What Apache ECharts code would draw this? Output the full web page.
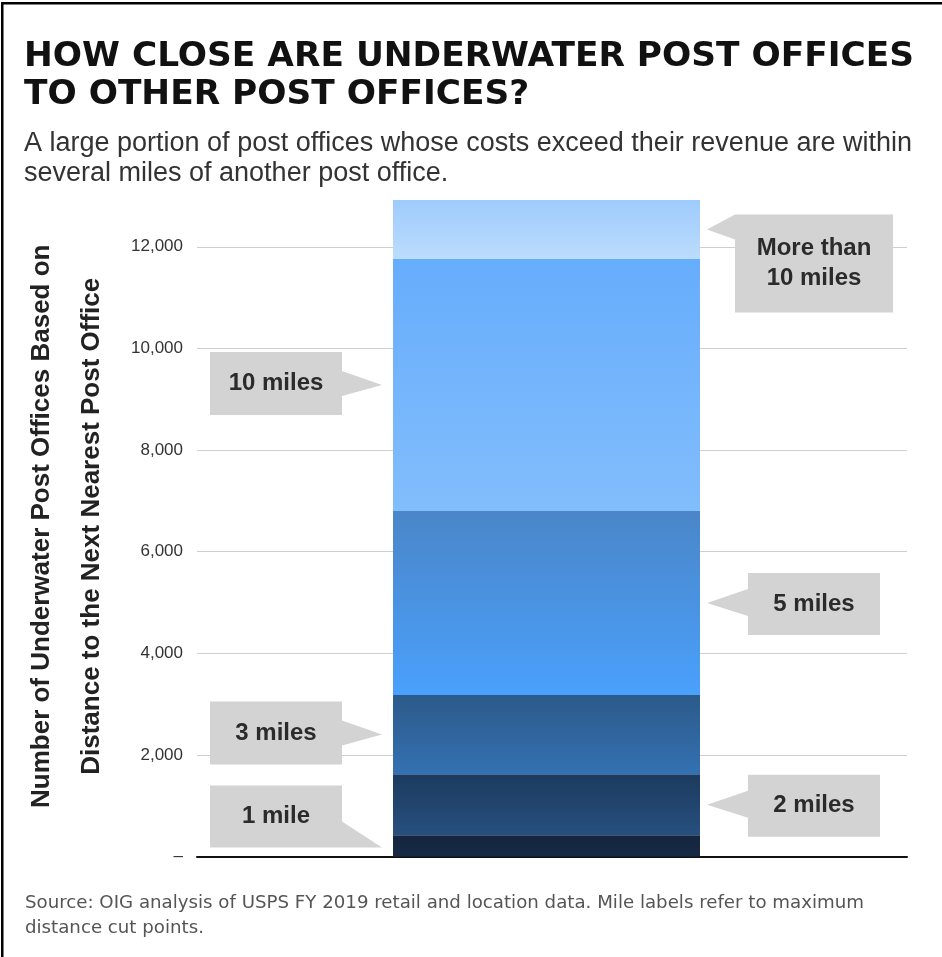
<!DOCTYPE html>
<html>
<head>
<meta charset="utf-8">
<script src="https://cdn.jsdelivr.net/npm/echarts@6/dist/echarts.min.js"></script>
<style>
html,body{margin:0;padding:0;background:#fff;}
#main{width:942px;height:957px;}
</style>
</head>
<body>
<div id="main"></div>
<script>
// ---- data ----
const categories = ['Underwater post offices'];
const segmentNames = ['1 mile', '2 miles', '3 miles', '5 miles', '10 miles', 'More than 10 miles'];
const segmentValues = [420, 1200, 1560, 3620, 4960, 1160];
const yTicks = [0, 2000, 4000, 6000, 8000, 10000, 12000];
const calloutTexts = ['1 mile', '2 miles', '3 miles', '5 miles', '10 miles', 'More than\n10 miles'];
const calloutSides = ['left', 'right', 'left', 'right', 'left', 'right'];

// ---- styles ----
const segmentGradients = [
  ['#15253d', '#172a45'],
  ['#1c3a5e', '#27507f'],
  ['#2c5a8a', '#3471b2'],
  ['#4a86c8', '#4aa0fc'],
  ['#66adfc', '#82bdfc'],
  ['#9ecbfd', '#bcdcfc']
];
const BAR_W = 307;
const SPACER_W = 11;

const chart = echarts.init(document.getElementById('main'), null, {renderer: 'canvas'});

const series = segmentValues.map((v, i) => ({
  name: segmentNames[i],
  type: 'bar',
  stack: 'total',
  barWidth: BAR_W,
  barGap: '0%',
  data: [v],
  itemStyle: {
    color: new echarts.graphic.LinearGradient(0, 0, 0, 1, [
      {offset: 0, color: segmentGradients[i][0]},
      {offset: 1, color: segmentGradients[i][1]}
    ])
  },
  emphasis: {disabled: true}
}));
// empty spacer column (no data) so the bar sits slightly left of centre as in the reference
series.push({name: 'spacer', type: 'bar', stack: 'spacer', barWidth: SPACER_W, barGap: '0%', data: ['-'], silent: true});

const option = {
  animation: false,
  backgroundColor: '#fff',
  title: [
    {
      text: 'HOW CLOSE ARE UNDERWATER POST OFFICES\nTO OTHER POST OFFICES?',
      left: 19, top: 33,
      textStyle: {fontFamily: 'DejaVu Sans', fontWeight: 'bold', fontSize: 34.4, lineHeight: 38, color: '#111'}
    },
    {
      text: 'A large portion of post offices whose costs exceed their revenue are within\nseveral miles of another post office.',
      left: 19, top: 124,
      textStyle: {fontFamily: 'Liberation Sans', fontWeight: 'normal', fontSize: 27, lineHeight: 30, color: '#333'}
    },
    {
      text: 'Source: OIG analysis of USPS FY 2019 retail and location data. Mile labels refer to maximum\ndistance cut points.',
      left: 20, top: 886,
      textStyle: {fontFamily: 'DejaVu Sans', fontWeight: 'normal', fontSize: 18.2, lineHeight: 25, color: '#555'}
    }
  ],
  grid: {left: 197, right: 35, top: 196, bottom: 100.5, containLabel: false},
  xAxis: {
    type: 'category',
    data: categories,
    axisLine: {show: true, lineStyle: {color: '#111', width: 2}},
    axisTick: {show: false},
    axisLabel: {show: false}
  },
  yAxis: {
    type: 'value',
    min: 0, max: 13000, interval: 2000,
    name: 'Number of Underwater Post Offices Based on\nDistance to the Next Nearest Post Office',
    nameLocation: 'middle',
    nameRotate: 90,
    nameGap: 80,
    nameTextStyle: {fontFamily: 'Liberation Sans', fontWeight: 'bold', fontSize: 26, lineHeight: 50, color: '#222'},
    axisLine: {show: false},
    axisTick: {show: false},
    splitLine: {show: true, showMaxLine: false, lineStyle: {color: '#cfcfcf', width: 1}},
    axisLabel: {
      showMaxLabel: false,
      margin: 14,
      fontFamily: 'Liberation Sans', fontSize: 17, color: '#333',
      formatter: function (v) {
        if (yTicks.indexOf(v) < 0) return '';
        return v === 0 ? '–' : v.toLocaleString('en-US');
      }
    }
  },
  series: series
};
chart.setOption(option);

// ---- callouts, anchored to each segment's middle through the axes ----
function buildCallouts() {
  const elements = [];
  // frame lines
  elements.push({type: 'rect', shape: {x: 1, y: 2, width: 942, height: 2.5}, style: {fill: '#000'}, silent: true});
  elements.push({type: 'rect', shape: {x: 1, y: 2, width: 2.5, height: 957}, style: {fill: '#000'}, silent: true});

  const centre = chart.convertToPixel({xAxisIndex: 0}, categories[0]);
  const shift = SPACER_W / 2;
  const barLeft = centre - BAR_W / 2 - shift;
  const barRight = centre + BAR_W / 2 - shift;
  let cum = 0;
  const boxFill = '#d3d3d3';
  const txtStyle = {fontFamily: 'Liberation Sans', fontWeight: 'bold', fontSize: 24, lineHeight: 30, fill: '#2b2b2b', align: 'center', verticalAlign: 'middle'};
  segmentValues.forEach((v, i) => {
    const mid = cum + v / 2;
    cum += v;
    let ty = chart.convertToPixel({yAxisIndex: 0}, mid);
    const side = calloutSides[i];
    let box, tri;
    if (i === 0) {
      ty = chart.convertToPixel({yAxisIndex: 0}, 0) - 9;
      const tx = barLeft - 11;
      box = {x: tx - 172, y: ty - 62, w: 132, h: 62};
      tri = [[tx - 40, ty - 26], [tx, ty], [tx - 40, ty]];
    } else if (i === 5) {
      const tx = barRight + 7;
      box = {x: tx + 28, y: ty - 15, w: 158, h: 98};
      tri = [[tx, ty], [tx + 28, ty - 15], [tx + 28, ty + 10]];
    } else if (side === 'right') {
      const tx = barRight + 7;
      box = {x: tx + 41, y: ty - 30, w: 132, h: 62};
      tri = [[tx, ty], [tx + 41, ty - 14], [tx + 41, ty + 13]];
    } else {
      const tx = barLeft - 11;
      box = {x: tx - 172, y: ty - 33, w: 132, h: 63};
      tri = [[tx - 40, ty - 14], [tx, ty], [tx - 40, ty + 11]];
    }
    elements.push({type: 'rect', shape: {x: box.x, y: box.y, width: box.w, height: box.h}, style: {fill: boxFill}, silent: true, z: 10});
    elements.push({type: 'polygon', shape: {points: tri}, style: {fill: boxFill}, silent: true, z: 10});
    elements.push({type: 'text', x: box.x + box.w / 2, y: box.y + box.h / 2, style: Object.assign({text: calloutTexts[i]}, txtStyle), silent: true, z: 11});
  });
  return elements;
}
chart.setOption({graphic: {elements: buildCallouts()}});
</script>
</body>
</html>
